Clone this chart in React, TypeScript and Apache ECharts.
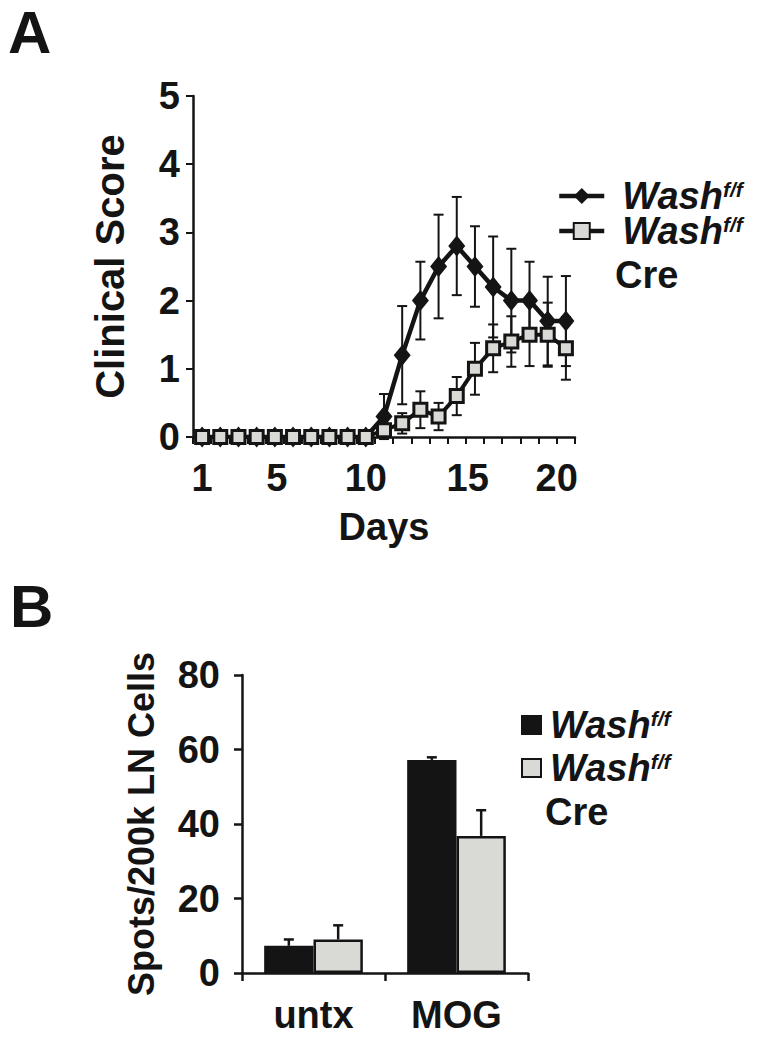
import React, { useEffect, useRef } from "react";
import * as echarts from "echarts";

// ---------- Panel A data ----------
const days = ["1", "2", "3", "4", "5", "6", "7", "8", "9", "10", "11", "12", "13", "14", "15", "16", "17", "18", "19", "20", "21"];
const dayLabels = ["1", "5", "10", "15", "20"];
const scoreWashFF = [0, 0, 0, 0, 0, 0, 0, 0, 0, 0, 0.3, 1.2, 2.0, 2.5, 2.8, 2.5, 2.2, 2.0, 2.0, 1.7, 1.7];
const scoreWashFFErr = [0, 0, 0, 0, 0, 0, 0, 0, 0, 0, 0.33, 0.72, 0.57, 0.76, 0.72, 0.59, 0.74, 0.76, 0.57, 0.65, 0.66];
const scoreWashCre = [0, 0, 0, 0, 0, 0, 0, 0, 0, 0, 0.1, 0.2, 0.4, 0.3, 0.6, 1.0, 1.3, 1.4, 1.5, 1.5, 1.3];
const scoreWashCreErr = [0, 0, 0, 0, 0, 0, 0, 0, 0, 0, 0.1, 0.15, 0.27, 0.2, 0.28, 0.38, 0.35, 0.37, 0.46, 0.47, 0.46];
const scoreTicks = [0, 1, 2, 3, 4, 5];

// ---------- Panel B data ----------
const groups = ["untx", "MOG"];
const spotsWashFF = [7.3, 57.2];
const spotsWashFFErr = [1.7, 0.7];
const spotsWashCre = [9.0, 36.8];
const spotsWashCreErr = [3.8, 6.9];
const spotsTicks = [0, 20, 40, 60, 80];

const FONT = "'Liberation Sans', Arial, Helvetica, sans-serif";
const INK = "#141414";
const GREY = "#d9dad6";
const BAR_CAT_GAP = 0.31;

const legendRich = (pad: number) => ({
  w: { fontFamily: FONT, fontSize: 38, fontStyle: "italic", fontWeight: "bold", color: INK, lineHeight: 34, padding: [0, 0, 0, pad] },
  s: { fontFamily: FONT, fontSize: 21, fontStyle: "italic", fontWeight: "bold", color: INK, lineHeight: 21, verticalAlign: "top" },
});

// label nudges so the Excel-style day labels sit where the original put them
const dayLabelPad: Record<string, number> = { "1": 0, "5": 4, "10": 0, "15": 22, "20": 18 };

export default function App() {
  const ref = useRef<HTMLDivElement>(null);

  useEffect(() => {
    if (!ref.current) return;
    const chart = echarts.init(ref.current, undefined, { renderer: "svg" });

    const lineErrRender = (params: any, api: any) => {
      const xi = api.value(0);
      const v = api.value(1);
      const e = api.value(2);
      if (!e) return null;
      const top = api.coord([xi, v + e]);
      const bot = api.coord([xi, v - e]);
      const cap = 5;
      const style = { stroke: INK, lineWidth: 2, fill: null };
      return {
        type: "group",
        children: [
          { type: "line", shape: { x1: top[0], y1: top[1], x2: bot[0], y2: bot[1] }, style },
          { type: "line", shape: { x1: top[0] - cap, y1: top[1], x2: top[0] + cap, y2: top[1] }, style },
          { type: "line", shape: { x1: bot[0] - cap, y1: bot[1], x2: bot[0] + cap, y2: bot[1] }, style },
        ],
      };
    };

    const barErrRender = (sign: number) => (params: any, api: any) => {
      const xi = api.value(0);
      const v = api.value(1);
      const e = api.value(2);
      const band = api.size([1, 0])[0];
      const barW = (band * (1 - BAR_CAT_GAP)) / 2;
      const dx = (sign * barW) / 2;
      const top = api.coord([xi, v + e]);
      const base = api.coord([xi, v]);
      const cap = 5;
      const style = { stroke: INK, lineWidth: 2.5, fill: null };
      return {
        type: "group",
        children: [
          { type: "line", shape: { x1: top[0] + dx, y1: top[1], x2: base[0] + dx, y2: base[1] }, style },
          { type: "line", shape: { x1: top[0] + dx - cap, y1: top[1], x2: top[0] + dx + cap, y2: top[1] }, style },
        ],
      };
    };

    const axisText = { fontFamily: FONT, fontSize: 38, fontWeight: "bold", color: INK };

    chart.setOption({
      animation: false,
      textStyle: { fontFamily: FONT },
      grid: [
        { left: 193, top: 96, width: 382, height: 341 },
        { left: 242, top: 675, width: 286, height: 298 },
      ],
      xAxis: [
        {
          type: "category",
          gridIndex: 0,
          data: days,
          boundaryGap: true,
          axisLine: { lineStyle: { color: INK, width: 2.5 } },
          axisTick: { show: true, interval: 0, length: 7, lineStyle: { color: INK, width: 2 } },
          axisLabel: {
            ...axisText,
            margin: 22,
            interval: (index: number, value: string) => dayLabels.includes(value),
            formatter: (value: string) => `{d${value}|${value}}`,
            rich: Object.fromEntries(
              dayLabels.map((d) => [
                `d${d}`,
                { ...axisText, padding: [0, 0, 0, dayLabelPad[d] || 0] },
              ])
            ),
          },
          name: "Days",
          nameLocation: "middle",
          nameGap: 71,
          nameTextStyle: axisText,
        },
        {
          type: "category",
          gridIndex: 1,
          data: groups,
          axisLine: { lineStyle: { color: INK, width: 2.5 } },
          axisTick: { show: true, length: 8, lineStyle: { color: INK, width: 2.5 } },
          axisLabel: { ...axisText, margin: 23 },
        },
      ],
      yAxis: [
        {
          type: "value",
          gridIndex: 0,
          min: scoreTicks[0],
          max: scoreTicks[scoreTicks.length - 1],
          interval: 1,
          splitLine: { show: false },
          axisLine: { show: true, lineStyle: { color: INK, width: 2.5 } },
          axisTick: { show: true, length: 7, lineStyle: { color: INK, width: 2 } },
          axisLabel: { ...axisText, margin: 13 },
          name: "Clinical Score",
          nameLocation: "middle",
          nameGap: 63,
          nameTextStyle: { ...axisText, fontSize: 40 },
        },
        {
          type: "value",
          gridIndex: 1,
          min: spotsTicks[0],
          max: spotsTicks[spotsTicks.length - 1],
          interval: 20,
          splitLine: { show: false },
          axisLine: { show: true, lineStyle: { color: INK, width: 2.5 } },
          axisTick: { show: true, length: 8, lineStyle: { color: INK, width: 2.5 } },
          axisLabel: { ...axisText, margin: 22 },
          name: "Spots/200k LN Cells",
          nameLocation: "middle",
          nameGap: 83,
          nameTextStyle: { ...axisText, fontSize: 36 },
        },
      ],
      legend: [
        {
          data: ["Wash f/f", "Wash f/f Cre"],
          orient: "vertical",
          left: 552,
          top: 172,
          itemWidth: 45,
          itemHeight: 20,
          itemGap: -3,
          selectedMode: false,
          lineStyle: { width: 4.5, color: INK },
          formatter: () => "{w|Wash}{s|f/f}",
          textStyle: { rich: legendRich(13) },
        },
        {
          data: ["Wash f/f spots", "Wash f/f Cre spots"],
          orient: "vertical",
          left: 516,
          top: 701,
          itemWidth: 19,
          itemHeight: 18,
          itemGap: 5,
          icon: "rect",
          selectedMode: false,
          formatter: () => "{w|Wash}{s|f/f}",
          textStyle: { rich: legendRich(4) },
        },
      ],
      graphic: [
        { type: "text", left: 8, top: 2, style: { text: "A", fontFamily: FONT, fontSize: 60, fontWeight: "bold", fill: INK } },
        { type: "text", left: 10, top: 576, style: { text: "B", fontFamily: FONT, fontSize: 60, fontWeight: "bold", fill: INK } },
        { type: "text", left: 615, top: 256, style: { text: "Cre", fontFamily: FONT, fontSize: 38, lineHeight: 34, fontWeight: "bold", fill: INK } },
        { type: "text", left: 545, top: 793, style: { text: "Cre", fontFamily: FONT, fontSize: 38, lineHeight: 34, fontWeight: "bold", fill: INK } },
      ],
      series: [
        {
          type: "custom",
          name: "Wash f/f error",
          xAxisIndex: 0,
          yAxisIndex: 0,
          renderItem: lineErrRender,
          data: scoreWashFF.map((v, i) => [i, v, scoreWashFFErr[i]]),
          encode: { x: 0, y: 1 },
          z: 1,
          silent: true,
        },
        {
          type: "custom",
          name: "Wash f/f Cre error",
          xAxisIndex: 0,
          yAxisIndex: 0,
          renderItem: lineErrRender,
          data: scoreWashCre.map((v, i) => [i, v, scoreWashCreErr[i]]),
          encode: { x: 0, y: 1 },
          z: 1,
          silent: true,
        },
        {
          type: "line",
          name: "Wash f/f",
          xAxisIndex: 0,
          yAxisIndex: 0,
          data: scoreWashFF,
          showSymbol: true,
          showAllSymbol: true,
          symbol: "diamond",
          symbolSize: [17, 21],
          lineStyle: { color: INK, width: 4.5 },
          itemStyle: { color: INK, borderColor: INK, borderWidth: 0 },
          z: 3,
        },
        {
          type: "line",
          name: "Wash f/f Cre",
          xAxisIndex: 0,
          yAxisIndex: 0,
          data: scoreWashCre,
          showSymbol: true,
          showAllSymbol: true,
          symbol: "rect",
          symbolSize: 13,
          lineStyle: { color: INK, width: 4 },
          itemStyle: { color: GREY, borderColor: INK, borderWidth: 3 },
          z: 4,
        },
        {
          type: "bar",
          name: "Wash f/f spots",
          xAxisIndex: 1,
          yAxisIndex: 1,
          data: spotsWashFF,
          barGap: "0%",
          barCategoryGap: `${BAR_CAT_GAP * 100}%`,
          itemStyle: { color: INK, borderColor: INK, borderWidth: 2.5 },
          z: 2,
        },
        {
          type: "bar",
          name: "Wash f/f Cre spots",
          xAxisIndex: 1,
          yAxisIndex: 1,
          data: spotsWashCre,
          barGap: "0%",
          barCategoryGap: `${BAR_CAT_GAP * 100}%`,
          itemStyle: { color: GREY, borderColor: INK, borderWidth: 2.5 },
          z: 2,
        },
        {
          type: "custom",
          name: "Wash f/f spots error",
          xAxisIndex: 1,
          yAxisIndex: 1,
          renderItem: barErrRender(-1),
          data: spotsWashFF.map((v, i) => [i, v, spotsWashFFErr[i]]),
          encode: { x: 0, y: 1 },
          z: 3,
          silent: true,
        },
        {
          type: "custom",
          name: "Wash f/f Cre spots error",
          xAxisIndex: 1,
          yAxisIndex: 1,
          renderItem: barErrRender(1),
          data: spotsWashCre.map((v, i) => [i, v, spotsWashCreErr[i]]),
          encode: { x: 0, y: 1 },
          z: 3,
          silent: true,
        },
      ],
    });

    return () => chart.dispose();
  }, []);

  return (
    <div
      ref={ref}
      style={{ position: "absolute", left: 0, top: 0, width: 764, height: 1042, background: "#ffffff" }}
    />
  );
}
